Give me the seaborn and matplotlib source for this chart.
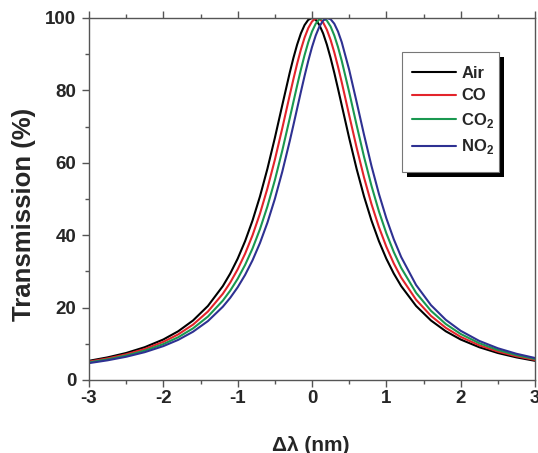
import numpy as np
import pandas as pd
import matplotlib
matplotlib.use("Agg")
import matplotlib.pyplot as plt
import matplotlib.patheffects as pe
from matplotlib.patches import Rectangle
from matplotlib.ticker import MultipleLocator
import seaborn as sns

# ---- data ----
x_nm = [-3.0, -2.75, -2.5, -2.25, -2.0, -1.8, -1.6, -1.4, -1.2, -1.1, -1.0, -0.9, -0.8,
        -0.7, -0.6, -0.5, -0.4, -0.3, -0.25, -0.2, -0.15, -0.1, -0.05, 0.0, 0.05, 0.1,
        0.15, 0.2, 0.25, 0.3, 0.35, 0.4, 0.5, 0.6,
        0.7, 0.8, 0.9, 1.0, 1.1, 1.2, 1.4, 1.6, 1.8, 2.0, 2.25, 2.5, 2.75, 3.0]

air = [5.30, 6.25, 7.46, 9.06, 11.19, 13.46, 16.45, 20.46, 25.93, 29.41, 33.51, 38.36, 44.06,
       50.71, 58.34, 66.85, 75.91, 84.85, 88.97, 92.65, 95.73, 98.05, 99.51, 100.0, 99.51, 98.05,
       95.73, 92.65, 88.97, 84.85, 80.45, 75.91, 66.85, 58.34,
       50.71, 44.06, 38.36, 33.51, 29.41, 25.93, 20.46, 16.45, 13.46, 11.19, 9.06, 7.46, 6.25, 5.30]

co = [5.08, 5.96, 7.09, 8.56, 10.53, 12.60, 15.31, 18.92, 23.81, 26.91, 30.57, 34.89, 39.98,
      45.95, 52.90, 60.81, 69.53, 78.64, 83.12, 87.37, 91.24, 94.58, 97.22, 99.04, 99.92, 99.82,
      98.75, 96.76, 93.96, 90.50, 86.54, 82.24, 73.16, 64.22,
      55.95, 48.61, 42.26, 36.82, 32.21, 28.30, 22.18, 17.72, 14.41, 11.92, 9.59, 7.87, 6.56, 5.55]

co2 = [4.86, 5.69, 6.74, 8.11, 9.92, 11.81, 14.27, 17.53, 21.92, 24.69, 27.95, 31.79, 36.33,
       41.67, 47.93, 55.17, 63.35, 72.25, 76.82, 81.35, 85.70, 89.74, 93.32, 96.26, 98.42, 99.68,
       99.98, 99.29, 97.66, 95.17, 91.96, 88.18, 79.55, 70.43,
       61.65, 53.65, 46.60, 40.54, 35.36, 30.97, 24.10, 19.13, 15.46, 12.72, 10.17, 8.30, 6.89, 5.81]

no2 = [4.66, 5.44, 6.42, 7.69, 9.36, 11.09, 13.34, 16.28, 20.23, 22.71, 25.61, 29.03, 33.07,
       37.84, 43.45, 50.00, 57.53, 65.96, 70.43, 74.99, 79.55, 83.99, 88.18, 91.96, 95.17, 97.66,
       99.29, 99.98, 99.68, 98.42, 96.26, 93.32, 85.70, 76.82,
       67.74, 59.15, 51.43, 44.68, 38.89, 33.96, 26.25, 20.69, 16.62, 13.59, 10.80, 8.77, 7.25, 6.08]

gases = ["Air", "CO", "CO2", "NO2"]
legend_labels = ["Air", "CO", r"CO$_\mathbf{2}$", r"NO$_\mathbf{2}$"]
colors = ["#000000", "#e3242b", "#1a9850", "#2e3192"]

frames = []
for g, vals in zip(gases, [air, co, co2, no2]):
    frames.append(pd.DataFrame({"x": x_nm, "T": vals, "gas": g}))
df = pd.concat(frames, ignore_index=True)

# ---- style ----
sns.set_style("ticks")
plt.rcParams["font.family"] = ["Liberation Sans", "DejaVu Sans"]
plt.rcParams["font.weight"] = "bold"
plt.rcParams["axes.unicode_minus"] = False
plt.rcParams["mathtext.fontset"] = "custom"
plt.rcParams["mathtext.bf"] = "Liberation Sans:bold"
plt.rcParams["mathtext.rm"] = "Liberation Sans:bold"

W, H = 538, 453
AX_L, AX_R, AX_T, AX_B = 89, 535, 18, 380
fig = plt.figure(figsize=(W / 100, H / 100), dpi=100)
ax = fig.add_axes([AX_L / W, (H - AX_B) / H, (AX_R - AX_L) / W, (AX_B - AX_T) / H])

def ax_x(px):
    return (px - AX_L) / (AX_R - AX_L)

def ax_y(py):
    return (AX_B - py) / (AX_B - AX_T)

sns.lineplot(data=df, x="x", y="T", hue="gas", hue_order=gases,
             palette=dict(zip(gases, colors)), linewidth=1.5, ax=ax,
             legend=False, sort=False)

ax.set_xlim(-3, 3)
ax.set_ylim(0, 100)
ax.xaxis.set_major_locator(MultipleLocator(1))
ax.xaxis.set_minor_locator(MultipleLocator(0.5))
ax.yaxis.set_major_locator(MultipleLocator(20))
ax.yaxis.set_minor_locator(MultipleLocator(10))

spine_c = "#555555"
for s in ax.spines.values():
    s.set_visible(True)
    s.set_color(spine_c)
    s.set_linewidth(1.0)

ax.tick_params(which="both", direction="out", color=spine_c, width=1.0,
               top=True, right=False, labeltop=False, labelright=False)
ax.tick_params(which="major", length=5, labelsize=13.5)
ax.tick_params(axis="y", which="major", pad=4)
ax.tick_params(axis="x", which="major", pad=2.5)
ax.tick_params(which="minor", length=3)
for lab in ax.get_xticklabels() + ax.get_yticklabels():
    lab.set_fontweight("bold")

ax.set_xlabel("Δλ (nm)", fontsize=15, fontweight="bold")
ax.set_ylabel("Transmission (%)", fontsize=18.5, fontweight="bold")
ax.xaxis.set_label_coords(ax_x(310.5), ax_y(436))
ax.yaxis.set_label_coords(ax_x(36), ax_y(214))

# legend box with Origin-style drop shadow
box = Rectangle((ax_x(402), ax_y(172)), ax_x(499) - ax_x(402), ax_y(52) - ax_y(172),
                transform=ax.transAxes, facecolor="white", edgecolor="#777777",
                linewidth=0.8, zorder=4, clip_on=False)
box.set_path_effects([
    pe.SimplePatchShadow(offset=(3.6, -3.6), shadow_rgbFace="black", alpha=1.0),
    pe.Normal()])
ax.add_patch(box)

handles = [plt.Line2D([], [], color=c, lw=1.5) for c in colors]
leg = ax.legend(handles, legend_labels, loc="upper left",
                bbox_to_anchor=(ax_x(412), ax_y(66)),
                frameon=False, handlelength=2.65, handletextpad=0.3,
                labelspacing=0.45, borderpad=0, borderaxespad=0,
                prop={"weight": "bold", "size": 12})
leg.set_zorder(6)

fig.savefig("out.png", dpi=100)
